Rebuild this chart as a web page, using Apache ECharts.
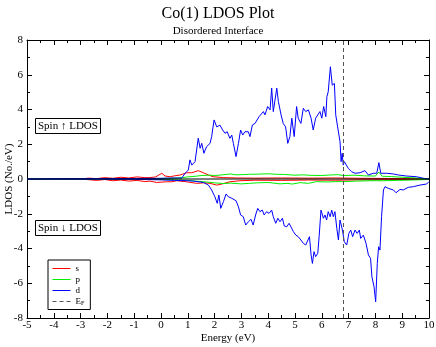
<!DOCTYPE html>
<html>
<head>
<meta charset="utf-8">
<script src="https://cdn.jsdelivr.net/npm/echarts@6/dist/echarts.min.js"></script>
<style>
  html, body { margin: 0; padding: 0; background: #fff; }
  #chart { width: 436px; height: 347px; }
</style>
</head>
<body>
<div id="chart"></div>
<script>
// energy ticks
const xTicks = [-5, -4, -3, -2, -1, 0, 1, 2, 3, 4, 5, 6, 7, 8, 9, 10];
const yTicks = [-8, -6, -4, -2, 0, 2, 4, 6, 8];
const fermiEnergy = 6.8;

// s, spin up / down
const sUpE = [-5, -3, -2.7, -2.4, -2.1, -1.8, -1.5, -1.2, -0.9, -0.6, -0.41, -0.2, 0.03, 0.15, 0.34, 0.5, 0.71, 0.96, 1.15, 1.39, 1.58, 1.77, 1.95, 2.33, 2.8, 3.5, 4.5, 5.5, 6.5, 7.5, 8.5, 10];
const sUpV = [0, 0, 0.05, 0.02, 0.08, 0.04, 0.1, 0.06, 0.12, 0.08, 0.08, 0.12, 0.33, 0.17, 0.13, 0.18, 0.23, 0.36, 0.36, 0.48, 0.36, 0.23, 0.13, 0.08, 0.06, 0.05, 0.06, 0.05, 0.06, 0.04, 0.03, 0.01];
const sDnE = [-5, -3, -2.7, -2.4, -2.1, -1.8, -1.5, -1.2, -0.9, -0.6, -0.41, -0.16, 0.2, 0.4, 0.59, 0.9, 1.33, 1.6, 1.83, 2.08, 2.27, 2.57, 2.95, 3.5, 4.5, 5.5, 6.5, 7.5, 8.5, 10];
const sDnV = [0, 0, -0.04, -0.08, -0.03, -0.1, -0.06, -0.12, -0.08, -0.15, -0.12, -0.2, -0.16, -0.16, -0.1, -0.15, -0.25, -0.22, -0.25, -0.35, -0.29, -0.16, -0.1, -0.07, -0.08, -0.06, -0.07, -0.05, -0.04, -0.02];

// p, spin up / down
const pUpE = [-5, -1, 0, 0.5, 0.8, 1.0, 1.3, 1.5, 1.8, 2.0, 2.3, 2.57, 2.8, 3.0, 3.3, 3.6, 4.0, 4.3, 4.6, 5.0, 5.3, 5.6, 6.0, 6.3, 6.6, 6.8, 7.2, 7.6, 8.0, 8.13, 8.25, 8.6, 9.0, 9.5, 10];
const pUpV = [0, 0.01, 0.03, 0.05, 0.08, 0.12, 0.16, 0.2, 0.22, 0.2, 0.24, 0.29, 0.24, 0.25, 0.27, 0.28, 0.3, 0.27, 0.26, 0.22, 0.24, 0.21, 0.2, 0.23, 0.25, 0.2, 0.22, 0.18, 0.17, 0.4, 0.16, 0.14, 0.1, 0.06, 0];
const pDnE = [-5, -1, 0, 0.5, 1.0, 1.3, 1.6, 2.0, 2.3, 2.6, 3.0, 3.3, 3.6, 4.0, 4.44, 4.7, 4.9, 5.19, 5.5, 5.8, 6.2, 6.5, 6.87, 7.3, 7.8, 8.3, 8.8, 9.3, 10];
const pDnV = [0, -0.01, -0.03, -0.05, -0.08, -0.12, -0.16, -0.22, -0.26, -0.24, -0.28, -0.25, -0.22, -0.2, -0.28, -0.25, -0.29, -0.21, -0.25, -0.15, -0.17, -0.15, -0.15, -0.12, -0.1, -0.1, -0.08, -0.06, -0.03];

// d, spin up / down
const dUpE = [-5, -3, -1, 0, 0.5, 0.77, 0.9, 1.02, 1.08, 1.15, 1.27, 1.39, 1.46, 1.52, 1.6, 1.7, 1.83, 1.89, 1.98, 2.08, 2.2, 2.3, 2.39, 2.47, 2.57, 2.64, 2.7, 2.8, 2.89, 2.97, 3.05, 3.13, 3.2, 3.26, 3.32, 3.41, 3.51, 3.57, 3.66, 3.73, 3.82, 3.88, 3.98, 4.07, 4.13, 4.19, 4.25, 4.32, 4.38, 4.48, 4.56, 4.65, 4.73, 4.81, 4.88, 4.97, 5.06, 5.12, 5.22, 5.31, 5.4, 5.5, 5.6, 5.68, 5.77, 5.85, 5.93, 6.0, 6.07, 6.15, 6.19, 6.24, 6.32, 6.39, 6.47, 6.52, 6.59, 6.68, 6.72, 6.76, 6.8, 6.84, 6.9, 6.99, 7.11, 7.24, 7.43, 7.61, 7.74, 7.92, 8.05, 8.13, 8.2, 8.42, 8.67, 8.86, 9.17, 9.54, 9.85, 10];
const dUpV = [0, 0.02, 0.03, 0.04, 0.06, 0.05, 0.33, 0.52, 1.1, 0.8, 1.0, 2.35, 1.77, 2.05, 1.48, 1.86, 2.05, 2.44, 3.4, 3.0, 3.1, 2.82, 2.63, 2.72, 2.34, 2.53, 2.05, 1.29, 2.05, 2.82, 2.53, 2.72, 2.63, 2.72, 2.44, 3.11, 3.2, 3.11, 3.59, 3.5, 3.88, 3.69, 4.17, 3.98, 5.23, 3.88, 3.98, 5.23, 4.46, 3.69, 3.2, 3.0, 2.05, 2.44, 3.5, 2.44, 4.17, 3.5, 3.2, 4.07, 3.88, 3.98, 3.5, 2.82, 3.5, 3.69, 3.88, 3.5, 4.17, 3.59, 4.74, 5.02, 6.46, 5.4, 5.5, 3.69, 3.0, 2.15, 1.0, 1.48, 0.8, 1.0, 0.9, 0.61, 0.42, 0.33, 0.36, 0.48, 0.23, 0.33, 0.33, 0.94, 0.33, 0.33, 0.29, 0.23, 0.17, 0.13, 0.02, 0];
const dDnE = [-5, -1, 0, 0.5, 1.0, 1.2, 1.58, 1.77, 1.89, 2.01, 2.1, 2.16, 2.23, 2.33, 2.43, 2.51, 2.64, 2.7, 2.8, 2.89, 2.97, 3.07, 3.16, 3.26, 3.36, 3.44, 3.53, 3.61, 3.69, 3.78, 3.85, 3.94, 4.03, 4.13, 4.19, 4.28, 4.36, 4.44, 4.53, 4.6, 4.69, 4.78, 4.85, 4.94, 5.03, 5.12, 5.22, 5.31, 5.4, 5.47, 5.54, 5.6, 5.65, 5.71, 5.77, 5.85, 5.9, 5.97, 6.06, 6.12, 6.18, 6.24, 6.31, 6.37, 6.43, 6.49, 6.56, 6.62, 6.68, 6.77, 6.84, 6.88, 6.93, 7.01, 7.08, 7.15, 7.24, 7.32, 7.4, 7.45, 7.55, 7.65, 7.74, 7.82, 7.87, 7.95, 8.01, 8.07, 8.12, 8.17, 8.23, 8.3, 8.36, 8.48, 8.67, 8.77, 8.92, 9.04, 9.23, 9.42, 9.66, 9.91, 10];
const dDnV = [0, -0.02, -0.05, -0.08, -0.1, -0.12, -0.2, -0.35, -0.63, -1.02, -1.4, -0.92, -1.69, -1.3, -0.86, -1.02, -1.11, -1.21, -1.25, -1.6, -2.07, -2.17, -2.65, -2.46, -2.32, -2.65, -2.07, -1.69, -1.88, -1.79, -2.07, -1.88, -1.98, -1.79, -2.17, -2.55, -2.26, -2.46, -2.26, -2.7, -2.75, -2.55, -2.46, -3.03, -3.23, -3.32, -3.51, -3.7, -3.8, -3.8, -3.32, -4.37, -4.86, -4.18, -4.47, -4.28, -3.32, -1.79, -2.26, -2.07, -2.36, -1.88, -2.17, -1.79, -2.17, -1.88, -2.84, -3.51, -2.36, -2.94, -3.61, -3.5, -3.8, -3.13, -2.94, -3.32, -2.94, -3.13, -2.94, -3.42, -3.23, -3.7, -4.37, -4.57, -5.63, -6.2, -7.07, -4.86, -3.9, -4.09, -2.17, -0.63, -0.44, -0.54, -0.63, -0.79, -0.6, -0.63, -0.48, -0.44, -0.35, -0.29, -0.15];

const FONT = "Liberation Serif";
const pairs = (xs, ys) => xs.map((x, i) => [x, ys[i]]);

function curve(name, color, xs, ys) {
  return {
    name: name,
    type: "line",
    data: pairs(xs, ys),
    symbol: "none",
    smooth: false,
    lineStyle: { color: color, width: 1 },
    itemStyle: { color: color }
  };
}

const chart = echarts.init(document.getElementById("chart"), null, { renderer: "canvas" });

const axisCommon = {
  axisLine: { show: true, onZero: false, lineStyle: { color: "#000", width: 1 } },
  axisTick: { show: true, inside: true, length: 5, lineStyle: { color: "#000" } },
  minorTick: { show: true, splitNumber: 2, length: 3, lineStyle: { color: "#000" } },
  splitLine: { show: false },
  axisLabel: { color: "#000", fontFamily: FONT, fontSize: 11 }
};

const option = {
  backgroundColor: "#fff",
  animation: false,
  title: [
    { text: "Co(1) LDOS Plot", left: "center", top: 1,
      textStyle: { fontFamily: FONT, fontSize: 16, fontWeight: "normal", color: "#000" } },
    { text: "Disordered Interface", left: "center", top: 21,
      textStyle: { fontFamily: FONT, fontSize: 11, fontWeight: "normal", color: "#000" } },
    { text: "Spin \u2191 LDOS", left: 35, top: 118, padding: [3, 3, 2, 3],
      borderColor: "#000", borderWidth: 1, backgroundColor: "#fff",
      textStyle: { fontFamily: FONT, fontSize: 11, fontWeight: "normal", color: "#000" } },
    { text: "Spin \u2193 LDOS", left: 35, top: 220, padding: [3, 3, 2, 3],
      borderColor: "#000", borderWidth: 1, backgroundColor: "#fff",
      textStyle: { fontFamily: FONT, fontSize: 11, fontWeight: "normal", color: "#000" } }
  ],
  legend: {
    orient: "vertical",
    left: 48,
    top: 260,
    padding: [4, 6, 3, 4],
    itemGap: 2,
    itemWidth: 18,
    itemHeight: 9,
    borderColor: "#000",
    borderWidth: 1,
    backgroundColor: "#fff",
    itemStyle: { opacity: 0 },
    lineStyle: { width: 1 },
    data: ["s", "p", "d", "EF"],
    formatter: n => n === "EF" ? "{e|E}{f|F}" : n,
    textStyle: {
      fontFamily: FONT, fontSize: 9, color: "#000",
      rich: {
        e: { fontFamily: FONT, fontSize: 9, color: "#000" },
        f: { fontFamily: FONT, fontSize: 6, color: "#000", verticalAlign: "bottom", padding: [4, 0, 0, 0] }
      }
    }
  },
  grid: { left: 27, right: 7, top: 40, bottom: 29, containLabel: false, outerBoundsMode: "none" },
  xAxis: [
    Object.assign({}, axisCommon, {
      type: "value", min: xTicks[0], max: xTicks[xTicks.length - 1], interval: 1,
      position: "bottom",
      name: "Energy (eV)", nameLocation: "middle", nameGap: 15, nameMoveOverlap: false,
      nameTextStyle: { fontFamily: FONT, fontSize: 11, color: "#000" },
      axisLabel: { color: "#000", fontFamily: FONT, fontSize: 11, margin: 2 }
    }),
    Object.assign({}, axisCommon, {
      type: "value", min: xTicks[0], max: xTicks[xTicks.length - 1], interval: 1,
      position: "top", axisLabel: { show: false }
    })
  ],
  yAxis: [
    Object.assign({}, axisCommon, {
      type: "value", min: yTicks[0], max: yTicks[yTicks.length - 1], interval: 2,
      position: "left",
      name: "LDOS (No./eV)", nameLocation: "middle", nameGap: 12, nameMoveOverlap: false,
      nameTextStyle: { fontFamily: FONT, fontSize: 11, color: "#000" },
      axisLabel: { color: "#000", fontFamily: FONT, fontSize: 11, margin: 4 }
    }),
    Object.assign({}, axisCommon, {
      type: "value", min: yTicks[0], max: yTicks[yTicks.length - 1], interval: 2,
      position: "right", axisLabel: { show: false }
    })
  ],
  series: [
    curve("s", "#ff0000", sUpE, sUpV),
    curve("s", "#ff0000", sDnE, sDnV),
    curve("p", "#00ee00", pUpE, pUpV),
    curve("p", "#00ee00", pDnE, pDnV),
    curve("d", "#0000ff", dUpE, dUpV),
    curve("d", "#0000ff", dDnE, dDnV),
    {
      name: "zero",
      type: "line",
      data: [[xTicks[0], 0], [xTicks[xTicks.length - 1], 0]],
      symbol: "none",
      z: 5,
      lineStyle: { color: "#000", width: 1 }
    },
    {
      name: "EF",
      type: "line",
      data: [],
      symbol: "none",
      lineStyle: { color: "#555", width: 1, type: [4, 3] },
      itemStyle: { color: "#555" },
      markLine: {
        silent: true,
        symbol: "none",
        label: { show: false },
        lineStyle: { color: "#555", width: 1, type: [4, 3] },
        data: [{ xAxis: fermiEnergy }]
      }
    }
  ]
};

chart.setOption(option);
</script>
</body>
</html>
